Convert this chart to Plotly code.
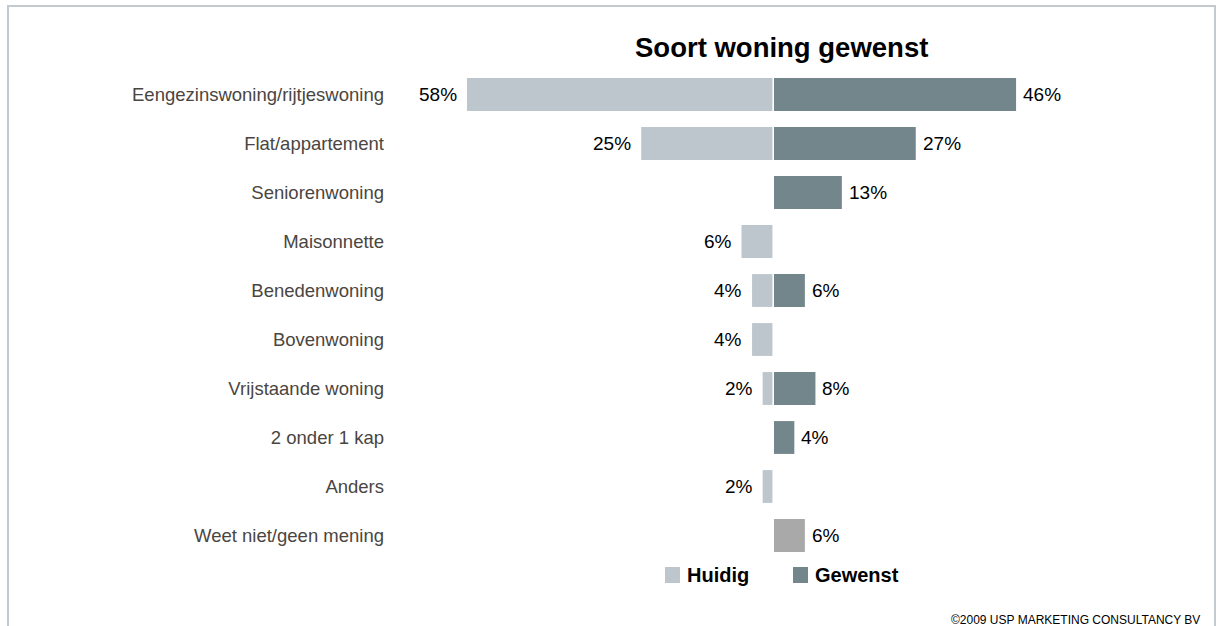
import plotly.graph_objects as go

# Survey answers: current vs. desired type of dwelling (percent)
categories = [
    "Eengezinswoning/rijtjeswoning",
    "Flat/appartement",
    "Seniorenwoning",
    "Maisonnette",
    "Benedenwoning",
    "Bovenwoning",
    "Vrijstaande woning",
    "2 onder 1 kap",
    "Anders",
    "Weet niet/geen mening",
]
huidig = [58, 25, None, 6, 4, 4, 2, None, 2, None]
gewenst = [46, 27, 13, None, 6, None, 8, 4, None, 6]
series_names = ["Huidig", "Gewenst"]
title_text = "Soort woning gewenst"
footer_text = "\u00a92009 USP MARKETING CONSULTANCY BV"

# Styling
C_HUIDIG = "#bdc6cc"
C_GEWENST = "#72868c"
C_ONBEKEND = "#a9a9a9"
C_CAT = "#4a4541"
C_FRAME = "#c2cacf"
FONT = "Liberation Sans, Arial, sans-serif"

W, H = 1216, 626
L, R, T, B = 392, 0, 70, 66
PW, PH = W - L - R, H - T - B
CENTER_PX = 773.2
SCALE = 5.28  # pixels per percent

def fx(px):
    return (px - L) / PW

def fy(py):
    return (H - B - py) / PH

xmin = -(CENTER_PX - L) / SCALE
xmax = (W - R - CENTER_PX) / SCALE

gew_colors = [C_GEWENST] * (len(categories) - 1) + [C_ONBEKEND]

fig = go.Figure()
fig.add_trace(go.Bar(
    y=categories,
    x=[-v if v is not None else None for v in huidig],
    orientation="h",
    marker=dict(color=C_HUIDIG, line=dict(width=0)),
    width=0.67,
    name=series_names[0],
    showlegend=False,
    hoverinfo="skip",
))
fig.add_trace(go.Bar(
    y=categories,
    x=gewenst,
    orientation="h",
    marker=dict(color=gew_colors, line=dict(width=0)),
    width=0.67,
    name=series_names[1],
    showlegend=False,
    hoverinfo="skip",
))

annotations = []
# value labels
for cat, v in zip(categories, huidig):
    if v is not None:
        annotations.append(dict(
            x=-v, y=cat, xref="x", yref="y", text=f"{v}%", showarrow=False,
            xanchor="right", yanchor="middle", xshift=-8,
            font=dict(family=FONT, size=19, color="#000000"),
        ))
for cat, v in zip(categories, gewenst):
    if v is not None:
        annotations.append(dict(
            x=v, y=cat, xref="x", yref="y", text=f"{v}%", showarrow=False,
            xanchor="left", yanchor="middle", xshift=5,
            font=dict(family=FONT, size=19, color="#000000"),
        ))

# title
annotations.append(dict(
    x=fx(781.5), y=fy(47), xref="paper", yref="paper", text=f"<b>{title_text}</b>",
    showarrow=False, xanchor="center", yanchor="middle",
    font=dict(family=FONT, size=27.5, color="#000000"),
))
# legend labels
for name, px in zip(series_names, [685, 813]):
    annotations.append(dict(
        x=fx(px), y=fy(575), xref="paper", yref="paper", text=f"<b>{name}</b>",
        showarrow=False, xanchor="left", yanchor="middle",
        font=dict(family=FONT, size=20, color="#000000"),
    ))
# footer
annotations.append(dict(
    x=fx(1202), y=fy(620), xref="paper", yref="paper", text=footer_text,
    showarrow=False, xanchor="right", yanchor="middle",
    font=dict(family=FONT, size=12, color="#000000"),
))

shapes = [
    # outer frame
    dict(type="rect", xref="paper", yref="paper",
         x0=fx(8), x1=fx(1215), y0=fy(700), y1=fy(6),
         line=dict(color=C_FRAME, width=2), fillcolor="rgba(0,0,0,0)", layer="below"),
    # thin white separation at the centre
    dict(type="line", xref="x", yref="paper", x0=0, x1=0, y0=0, y1=1,
         line=dict(color="#ffffff", width=1.6), layer="above"),
    # legend swatches
    dict(type="rect", xref="paper", yref="paper",
         x0=fx(665), x1=fx(680), y0=fy(583), y1=fy(567),
         line=dict(width=0), fillcolor=C_HUIDIG),
    dict(type="rect", xref="paper", yref="paper",
         x0=fx(793), x1=fx(808), y0=fy(583), y1=fy(567),
         line=dict(width=0), fillcolor=C_GEWENST),
]

fig.update_layout(
    width=W, height=H,
    margin=dict(l=L, r=R, t=T, b=B, pad=0),
    paper_bgcolor="#ffffff", plot_bgcolor="#ffffff",
    barmode="overlay",
    showlegend=False,
    xaxis=dict(range=[xmin, xmax], visible=False, fixedrange=True),
    yaxis=dict(
        range=[len(categories) - 0.5, -0.5],
        showgrid=False, zeroline=False, showline=False, ticks="",
        tickfont=dict(family=FONT, size=18.5, color=C_CAT),
        ticklabelstandoff=7,
        fixedrange=True,
    ),
    annotations=annotations,
    shapes=shapes,
)

fig.write_html("out.html")
